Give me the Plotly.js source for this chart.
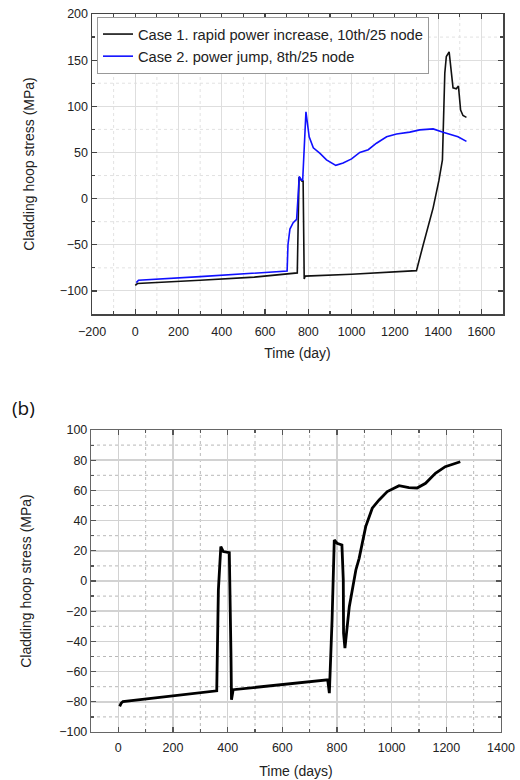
<!DOCTYPE html>
<html>
<head>
<meta charset="utf-8">
<script src="https://cdn.plot.ly/plotly-3.0.1.min.js"></script>
<style>html,body{margin:0;padding:0;background:#fff;}#chart{width:520px;height:780px;}</style>
</head>
<body>
<div id="chart"></div>
<script>
// ---- Panel (a): top chart ----
const case1Name = "Case 1. rapid power increase, 10th/25 node";
const case1Days = [0, 10, 300, 550, 749, 753, 757, 771, 776, 781, 785, 1000, 1300, 1330, 1377, 1404, 1420, 1431, 1438, 1451, 1469, 1484, 1494, 1504, 1515, 1531];
const case1Stress = [-94, -92, -88.5, -85, -80.5, -30, 23, 19, 19, -87, -84, -82, -78, -51, -10, 20, 42, 136, 154, 159, 120, 119, 122, 96, 90, 88];

const case2Name = "Case 2. power jump, 8th/25 node";
const case2Days = [5, 15, 300, 577, 702, 706, 710, 715, 730, 746, 752, 758, 769, 774, 789, 795, 804, 823, 854, 884, 927, 961, 1000, 1038, 1077, 1115, 1162, 1208, 1269, 1315, 1377, 1423, 1492, 1531];
const case2Stress = [-91, -88.5, -84.5, -80.5, -78.5, -50, -40, -33, -26, -22.5, 0, 24, 20, 20, 94, 80, 67, 55, 49, 42, 36, 38.5, 43, 50, 53, 60, 67, 70, 72, 74.5, 75.5, 72, 67, 62];

// ---- Panel (b): bottom chart ----
const panelBDays = [5, 10, 17, 100, 200, 360, 366, 375, 384, 406, 412, 414, 420, 600, 766, 772, 782, 790, 800, 818, 823, 824, 829, 845, 869, 881, 905, 929, 954, 984, 1027, 1063, 1093, 1124, 1160, 1196, 1251];
const panelBStress = [-83, -81, -79.8, -78, -76, -72.7, -6, 22.8, 19.5, 18.8, -47.8, -78.7, -72, -68.6, -65.4, -74.3, -25.7, 27.2, 25, 23.9, 0.7, -34.6, -44.5, -17, 7.3, 15, 36, 48.2, 53.7, 59.2, 63.1, 61.8, 61.6, 64.7, 71.3, 75.7, 79];

const yTitle = "Cladding hoop stress (MPa)";
const xTitleA = "Time (day)";
const xTitleB = "Time (days)";
const panelLabelB = "(b)";

const FONT = "Liberation Sans, Arial, sans-serif";

// minor grid positions halfway between major ticks (axis decoration only)
function midTicks(lo, hi, step) {
  const out = [];
  for (let v = lo + step / 2; v < hi; v += step) out.push(v);
  return out;
}
function vGrid(vals, xr, yr, color) {
  return vals.map(v => ({type: "line", xref: xr, yref: yr + " domain", x0: v, x1: v, y0: 0, y1: 1,
    layer: "below", line: {color: color, width: 1, dash: "dot"}}));
}
function hGrid(vals, xr, yr, color) {
  return vals.map(v => ({type: "line", xref: xr + " domain", yref: yr, x0: 0, x1: 1, y0: v, y1: v,
    layer: "below", line: {color: color, width: 1, dash: "dot"}}));
}

const traces = [
  {x: case1Days, y: case1Stress, type: "scatter", mode: "lines", name: case1Name,
   line: {color: "#111111", width: 1.6}, xaxis: "x", yaxis: "y"},
  {x: case2Days, y: case2Stress, type: "scatter", mode: "lines", name: case2Name,
   line: {color: "#1010ff", width: 1.6}, xaxis: "x", yaxis: "y"},
  {x: panelBDays, y: panelBStress, type: "scatter", mode: "lines", name: "Panel b",
   line: {color: "#000000", width: 2.8}, xaxis: "x2", yaxis: "y2", showlegend: false}
];

function axA(extra) {
  return Object.assign({
    showline: true, linecolor: "#444", linewidth: 1.5, mirror: "ticks",
    ticks: "inside", ticklen: 5, tickcolor: "#444", tickwidth: 1.2,
    showgrid: true, gridcolor: "#dedede", gridwidth: 1, zeroline: false,
    tickfont: {family: FONT, size: 12.5, color: "#222"},
    automargin: false
  }, extra);
}
function axB(extra) {
  return Object.assign({
    showline: true, linecolor: "#666", linewidth: 1.2, mirror: "ticks",
    ticks: "inside", ticklen: 5, tickcolor: "#555", tickwidth: 1.2,
    showgrid: true, gridcolor: "#d2d2d2", gridwidth: 1.6, zeroline: false,
    tickfont: {family: FONT, size: 12.5, color: "#222"},
    automargin: false
  }, extra);
}
function minorTicks(vals, color) {
  return {tickmode: "array", tickvals: vals, ticks: "inside", ticklen: 3, tickcolor: color, showgrid: false};
}

const xMinorA = midTicks(-200, 1700, 200);
const yMinorA = midTicks(-150, 200, 50);
const xMinorB = midTicks(-200, 1400, 200);
const yMinorB = midTicks(-100, 100, 20);

const layout = {
  width: 520, height: 780,
  margin: {l: 0, r: 0, t: 0, b: 0},
  paper_bgcolor: "#ffffff", plot_bgcolor: "#ffffff",
  font: {family: FONT, color: "#222"},
  showlegend: true,
  legend: {
    x: 97/520, y: 1 - 17/780, xanchor: "left", yanchor: "top",
    bgcolor: "#ffffff", bordercolor: "#999", borderwidth: 1,
    font: {family: FONT, size: 14.7, color: "#222"},
    tracegroupgap: 0, itemwidth: 30
  },
  xaxis: axA({
    domain: [92/520, 503/520], anchor: "y", range: [-200, 1700],
    tick0: -200, dtick: 200, ticklabelstandoff: 5,
    minor: minorTicks(xMinorA, "#444"),
    title: {text: xTitleA, font: {family: FONT, size: 14, color: "#222"}, standoff: 10}
  }),
  yaxis: axA({
    domain: [1 - 314/780, 1 - 14/780], anchor: "x", range: [-125, 200],
    tick0: 0, dtick: 50,
    minor: minorTicks(yMinorA, "#444"),
    title: {text: yTitle, font: {family: FONT, size: 14, color: "#222"}, standoff: 22}
  }),
  xaxis2: axB({
    domain: [91/520, 501/520], anchor: "y2", range: [-100, 1400],
    tick0: 0, dtick: 200, ticklabelstandoff: 4,
    minor: minorTicks(xMinorB, "#555"),
    title: {text: xTitleB, font: {family: FONT, size: 14, color: "#222"}, standoff: 12}
  }),
  yaxis2: axB({
    domain: [1 - 732/780, 1 - 430/780], anchor: "x2", range: [-100, 100],
    tick0: 0, dtick: 20,
    minor: minorTicks(yMinorB, "#555"),
    title: {text: yTitle, font: {family: FONT, size: 14, color: "#222"}, standoff: 24}
  }),
  shapes: [].concat(
    vGrid(xMinorA.filter(v => v > -200 && v < 1700), "x", "y", "#e2e2e2"),
    hGrid(yMinorA.filter(v => v > -125 && v < 200), "x", "y", "#e2e2e2"),
    vGrid(xMinorB.filter(v => v > -100 && v < 1400), "x2", "y2", "#b8b8b8"),
    hGrid(yMinorB, "x2", "y2", "#b8b8b8")
  ),
  annotations: [
    {text: panelLabelB, xref: "paper", yref: "paper", x: 10/520, y: 1 - 408/780,
     xanchor: "left", yanchor: "middle", showarrow: false,
     font: {family: "Open Sans, Liberation Sans, sans-serif", size: 19, color: "#111"}}
  ]
};

Plotly.newPlot("chart", traces, layout, {displayModeBar: false, staticPlot: true});
</script>
</body>
</html>
